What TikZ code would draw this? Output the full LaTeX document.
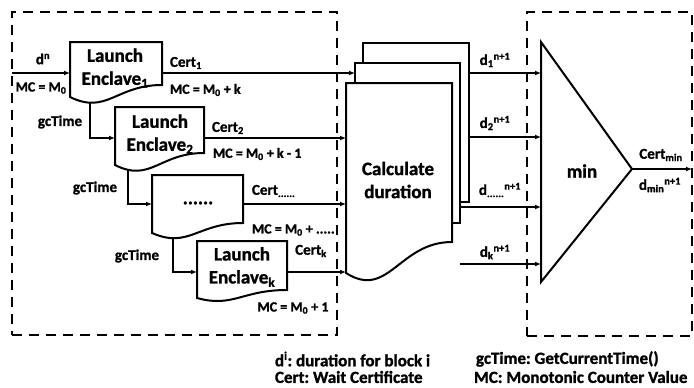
\documentclass[tikz,border=0pt]{standalone}
\usepackage{fontspec}
\setmainfont{Carlito}[BoldFont={Carlito Bold}, BoldFeatures={FakeBold=1.2}]
\usetikzlibrary{arrows.meta,calc}
\newcommand\docwave[3]{%
  \filldraw[line, fill=white] (#1.south east) -- (#1.north east) -- (#1.north west) -- ($(#1.south west)+(0,#2)$)
   .. controls ($(#1.south west)!0.4!(#1.south east)+(0,#3)$) and ($(#1.south west)!0.5!(#1.south east)$) .. (#1.south east) -- cycle;}
\begin{document}
\frenchspacing
\begin{tikzpicture}[x=1pt,y=-1pt,
  every node/.style={font=\bfseries\fontsize{15}{17}\selectfont, inner sep=0pt, outer sep=0pt},
  big/.style={font=\bfseries\fontsize{19}{23}\selectfont, align=center},
  mc/.style={font=\bfseries\fontsize{14}{16}\selectfont},
  note/.style={font=\bfseries\fontsize{17}{19}\selectfont, anchor=west},
  line/.style={line width=2pt, line join=miter},
  arr/.style={line width=2pt, -{Latex[length=6pt,width=5pt]}},
  dbox/.style={draw, line width=2pt, dash pattern=on 10pt off 7pt, anchor=north west},
  area/.style={draw=none, anchor=north west},
]
\useasboundingbox (0,0) rectangle (694,388);
% dashed boxes
\node[dbox, minimum width=325pt, minimum height=323pt] (lbox) at (12,12) {};
\node[dbox, minimum width=165pt, minimum height=324pt] (rbox) at (527,12) {};
% areas
\node[area, minimum width=92pt, minimum height=43pt] (e1) at (70,42) {};
\node[area, minimum width=89pt, minimum height=46pt] (e2) at (115,107) {};
\node[area, minimum width=91pt, minimum height=48pt] (e3) at (152,175) {};
\node[area, minimum width=90pt, minimum height=49pt] (ek) at (197,241) {};
\node[area, minimum width=106pt, minimum height=159pt] (back) at (363,43) {};
\node[area, minimum width=105pt, minimum height=160pt] (mid) at (355,63) {};
\node[area, minimum width=106pt, minimum height=159pt] (front) at (346,83) {};
\node[area, minimum width=91pt, minimum height=240pt] (minbox) at (541,42) {};
% coordinates
\coordinate (din) at (12,73);
\coordinate (y2) at (0,138);
\coordinate (y3) at (0,204);
\coordinate (y4) at (0,272);
\coordinate (o1) at (0,73);
\coordinate (o2) at (0,137);
\coordinate (o3) at (0,207);
\coordinate (o4) at (460,264);
\coordinate (tip) at (632,169);
% connectors
\draw[arr] (din) -- (e1.west |- din);
\draw[arr] (e1.east |- din) -- (mid.west |- din);
\draw[arr] ($(e1.south west)+(20,0)$) |- (e2.west |- y2);
\draw[arr] (e2.east |- y2) -- (front.west |- y2);
\draw[arr] ($(e2.south west)+(13,0)$) |- (e3.west |- y3);
\draw[arr] (e3.east |- y3) -- (front.west |- y3);
\draw[arr] ($(e3.south west)+(21,0)$) |- (ek.west |- y4);
\draw[arr] (ek.east |- y4) -- (front.west |- y4);
\draw[arr] (back.east |- o1) -- (minbox.west |- o1);
\draw[arr] (back.east |- o2) -- (minbox.west |- o2);
\draw[arr] (mid.east |- o3) -- (minbox.west |- o3);
\draw[arr] (o4) -- (minbox.west |- o4);
\draw[arr] (tip) -- (rbox.east |- tip);
% shapes
\docwave{e1}{12}{30}
\docwave{e2}{12}{30}
\docwave{e3}{10}{26}
\docwave{ek}{8}{18}
\filldraw[line, fill=white] (back.north west) rectangle (back.south east);
\filldraw[line, fill=white] (mid.north west) rectangle (mid.south east);
\docwave{front}{31}{58}
\draw[line] (minbox.north west) -- (tip) -- (minbox.south west) -- cycle;
% texts
\node[big] (t1) at (115,68) {Launch\\Enclave\textsubscript{1}};
\node[big] (t2) at (160,134) {Launch\\Enclave\textsubscript{2}};
\node[big] (t3) at (198,203) {......};
\node[big] (tk) at (242,267) {Launch\\Enclave\textsubscript{k}};
\node[big] (tc) at (398,180) {Calculate\\duration};
\node[big] (tm) at (582,171) {min};
% labels
\node (ldn) at (43,59) {d\textsuperscript{n}};
\node[mc] (lm0) at (41,88) {MC = M\textsubscript{0}};
\node[anchor=west] (lc1) at (170,63) {Cert\textsubscript{1}};
\node[mc, anchor=west] (lm1) at (170,90) {MC = M\textsubscript{0} + k};
\node (lg1) at (60,122) {gcTime};
\node[anchor=west] (lc2) at (212,128) {Cert\textsubscript{2}};
\node[mc, anchor=west] (lm2) at (213,154) {MC = M\textsubscript{0} + k - 1};
\node (lg2) at (95,188) {gcTime};
\node[anchor=west] (lc3) at (252,191) {Cert\textsubscript{......}};
\node[mc, anchor=west] (lm3) at (252,230) {MC = M\textsubscript{0} + .....};
\node (lg3) at (137,256) {gcTime};
\node (lck) at (311,251) {Cert\textsubscript{k}};
\node[mc] (lmk) at (293,308) {MC = M\textsubscript{0} + 1};
\node (ld1) at (495,60) {d\textsubscript{1}\textsuperscript{n+1}};
\node (ld2) at (495,123) {d\textsubscript{2}\textsuperscript{n+1}};
\node (ld3) at (500,190) {d\textsubscript{......}\textsuperscript{n+1}};
\node (ldk) at (495,252) {d\textsubscript{k}\textsuperscript{n+1}};
\node (lcm) at (661,155) {Cert\textsubscript{min}};
\node (ldm) at (660,185) {d\textsubscript{min}\textsuperscript{n+1}};
% notes
\node[note] (n1) at (275,359) {d\textsuperscript{i}: duration for block i};
\node[note] (n2) at (275,377) {Cert: Wait Certificate};
\node[note] (n3) at (476,359) {gcTime: GetCurrentTime()};
\node[note] (n4) at (474,377) {MC: Monotonic Counter Value};
\end{tikzpicture}
\end{document}
